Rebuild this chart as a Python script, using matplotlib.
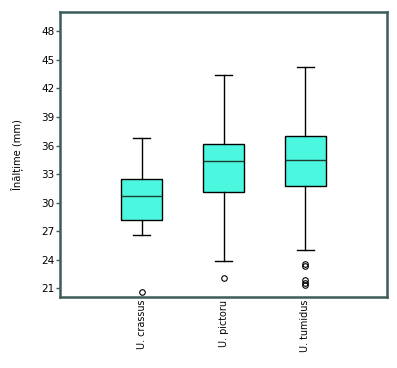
import matplotlib
matplotlib.use("Agg")
import matplotlib.pyplot as plt

species = ['U. crassus', 'U. pictoru', 'U. tumidus']
q1 = [28.2, 31.07, 31.8]
med = [30.72, 34.33, 34.53]
q3 = [32.44, 36.21, 37.02]
whislo = [26.6, 23.9, 25.02]
whishi = [36.74, 43.42, 44.22]
outliers = [[20.58], [22.05], [23.6, 23.35, 21.9, 21.6, 21.35]]
yticks = [21, 24, 27, 30, 33, 36, 39, 42, 45, 48]

stats = []
for i in range(len(species)):
    stats.append({'label': species[i], 'q1': q1[i], 'med': med[i], 'q3': q3[i],
                  'whislo': whislo[i], 'whishi': whishi[i], 'fliers': outliers[i]})

fig = plt.figure(figsize=(3.97, 3.68), dpi=100)
ax = fig.add_axes([0.151, 0.193, 0.824, 0.774])

ax.bxp(stats, positions=[1, 2, 3], widths=0.5, patch_artist=True,
       boxprops=dict(facecolor='#4CF7E0', edgecolor='black', linewidth=1),
       medianprops=dict(color='#1c3c30', linewidth=1),
       whiskerprops=dict(color='black', linewidth=1),
       capprops=dict(color='black', linewidth=1),
       capwidths=0.21,
       flierprops=dict(marker='o', markersize=4, markerfacecolor='none',
                       markeredgecolor='black', markeredgewidth=0.8))

ax.set_xlim(0, 4)
ax.set_ylim(20.1, 50)
ax.set_yticks(yticks)
ax.tick_params(axis='y', labelsize=7.5, length=3, width=1, color='#3d5c5c', pad=1)
ax.tick_params(axis='x', labelsize=6.9, length=0, pad=2)
ax.set_xticks([1, 2, 3])
ax.set_xticklabels(species, rotation=90)
ax.set_ylabel('Înălțime (mm)', fontsize=7.2, labelpad=13)
for s in ax.spines.values():
    s.set_color('#3d5c5c')
    s.set_linewidth(1.8)

fig.savefig('out.png', dpi=100)
